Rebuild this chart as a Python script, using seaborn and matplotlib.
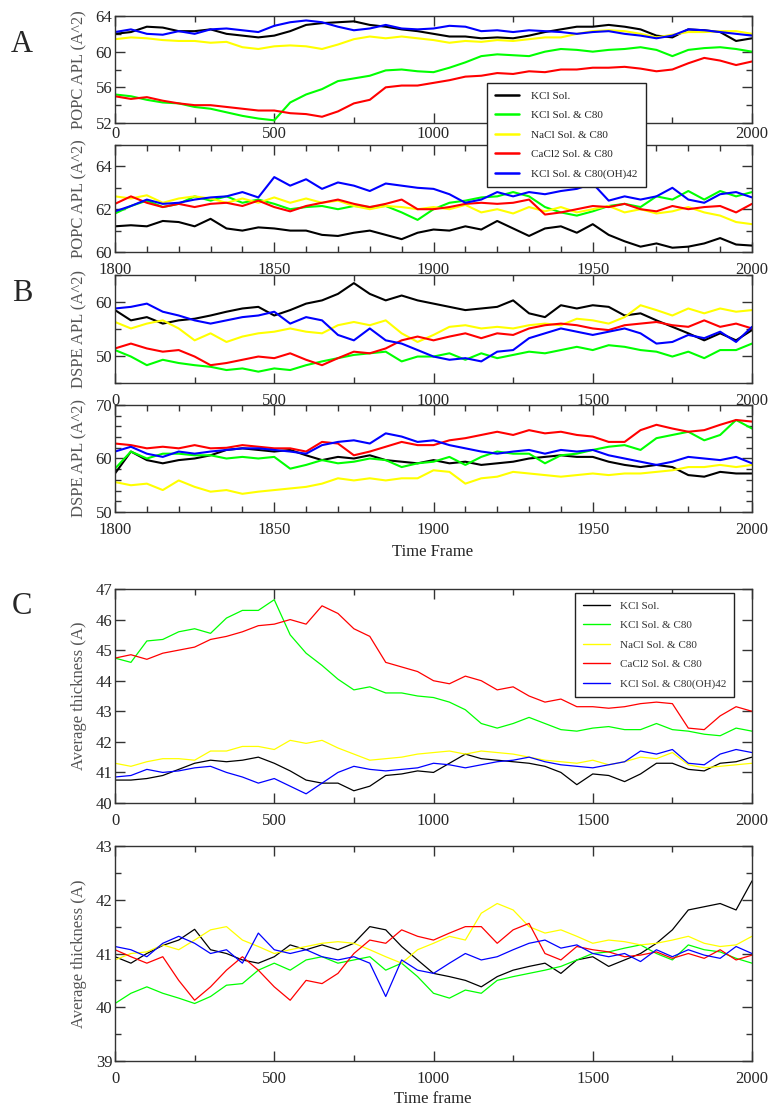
import matplotlib
matplotlib.use("Agg")
import matplotlib.pyplot as plt
from matplotlib.ticker import MultipleLocator
from matplotlib.lines import Line2D
import pandas as pd
import seaborn as sns

frames_full = list(range(0, 2001, 50))
frames_tail = list(range(1800, 2001, 5))

series_names = ["KCl Sol.", "KCl Sol. & C80", "NaCl Sol. & C80",
                "CaCl2 Sol. & C80", "KCl Sol. & C80(OH)42"]
series_colors = ["#000000", "#00ff00", "#ffff00", "#ff0000", "#0000ff"]

# ---- A: POPC area per lipid, full run
popc_full_kcl = [62.0, 62.2, 62.8, 62.7, 62.3, 62.3, 62.5, 62.0, 61.8, 61.6, 61.8, 62.3, 63.0, 63.2,
                 63.3, 63.4, 63.0, 62.8, 62.5, 62.3, 62.0, 61.7, 61.7, 61.5, 61.6, 61.5, 61.8, 62.2,
                 62.5, 62.8, 62.8, 63.0, 62.8, 62.5, 61.8, 61.6, 62.5, 62.4, 62.2, 61.2, 61.5]
popc_full_c80 = [55.2, 55.0, 54.6, 54.3, 54.2, 53.8, 53.6, 53.2, 52.8, 52.5, 52.3, 54.3, 55.2, 55.8,
                 56.7, 57.0, 57.3, 57.9, 58.0, 57.8, 57.7, 58.2, 58.8, 59.5, 59.7, 59.6, 59.5, 60.0,
                 60.3, 60.2, 60.0, 60.2, 60.3, 60.5, 60.2, 59.5, 60.2, 60.4, 60.5, 60.3, 60.0]
popc_full_nacl = [61.4, 61.6, 61.5, 61.3, 61.2, 61.2, 61.0, 61.1, 60.5, 60.3, 60.6, 60.7, 60.6, 60.3,
                  60.8, 61.4, 61.7, 61.5, 61.7, 61.5, 61.3, 61.0, 61.2, 61.1, 61.3, 61.2, 61.4, 61.6,
                  61.6, 62.0, 62.3, 62.4, 62.3, 62.0, 61.6, 61.9, 62.2, 62.2, 62.3, 62.3, 62.0]
popc_full_cacl2 = [55.0, 54.7, 54.9, 54.5, 54.2, 54.0, 54.0, 53.8, 53.6, 53.4, 53.4, 53.1, 53.0, 52.7,
                   53.3, 54.2, 54.6, 56.0, 56.2, 56.2, 56.5, 56.8, 57.2, 57.3, 57.6, 57.5, 57.8, 57.7,
                   58.0, 58.0, 58.2, 58.2, 58.3, 58.1, 57.8, 58.0, 58.7, 59.3, 59.0, 58.5, 58.9]
popc_full_oh = [62.2, 62.5, 62.0, 61.9, 62.3, 62.0, 62.5, 62.6, 62.4, 62.2, 62.9, 63.3, 63.5, 63.3,
                62.8, 62.4, 62.6, 63.0, 62.6, 62.5, 62.6, 62.9, 62.8, 62.3, 62.4, 62.2, 62.4, 62.3,
                62.2, 62.0, 62.2, 62.3, 62.0, 61.8, 61.5, 61.8, 62.5, 62.4, 62.2, 62.0, 61.8]

# ---- A: POPC area per lipid, last 200 frames
popc_tail_kcl = [61.2, 61.25, 61.2, 61.45, 61.4, 61.2, 61.55, 61.1, 61.0, 61.15, 61.1, 61.0, 61.0, 60.8,
                 60.75, 60.9, 61.0, 60.8, 60.6, 60.9, 61.05, 61.0, 61.2, 61.05, 61.45, 61.1, 60.75, 61.1,
                 61.2, 60.9, 61.3, 60.8, 60.5, 60.25, 60.4, 60.2, 60.25, 60.4, 60.65, 60.35, 60.3]
popc_tail_c80 = [61.8, 62.15, 62.4, 62.1, 62.25, 62.6, 62.4, 62.6, 62.3, 62.45, 62.25, 62.0, 62.1, 62.15,
                 62.0, 62.15, 62.1, 62.15, 61.85, 61.5, 62.0, 62.3, 62.4, 62.55, 62.6, 62.8, 62.6, 62.1,
                 61.85, 61.7, 61.9, 62.15, 62.25, 62.1, 62.6, 62.45, 62.85, 62.45, 62.85, 62.6, 62.8]
popc_tail_nacl = [62.6, 62.5, 62.65, 62.3, 62.5, 62.6, 62.5, 62.3, 62.5, 62.3, 62.55, 62.3, 62.5, 62.3,
                  62.4, 62.15, 62.0, 62.15, 62.1, 62.0, 62.1, 62.0, 62.2, 61.85, 62.0, 61.8, 62.1, 61.9,
                  62.1, 61.85, 62.0, 62.15, 61.85, 62.0, 61.8, 61.9, 62.1, 61.85, 61.7, 61.4, 61.3]
popc_tail_cacl2 = [62.25, 62.6, 62.3, 62.1, 62.25, 62.1, 62.25, 62.3, 62.15, 62.4, 62.1, 61.9, 62.15, 62.3,
                   62.45, 62.25, 62.1, 62.25, 62.45, 62.0, 62.0, 62.1, 62.25, 62.3, 62.25, 62.3, 62.45, 61.75,
                   61.85, 62.0, 62.15, 62.1, 62.25, 62.0, 61.9, 62.15, 62.0, 62.1, 62.15, 61.85, 62.25]
popc_tail_oh = [61.9, 62.15, 62.45, 62.25, 62.3, 62.45, 62.55, 62.6, 62.8, 62.55, 63.5, 63.1, 63.4, 62.95,
                63.25, 63.1, 62.85, 63.2, 63.1, 63.0, 62.95, 62.7, 62.3, 62.45, 62.8, 62.6, 62.8, 62.7,
                62.85, 62.95, 63.2, 62.4, 62.6, 62.45, 62.6, 63.0, 62.45, 62.3, 62.7, 62.8, 62.55]

# ---- B: DSPE area per lipid, full run
dspe_full_kcl = [58.5, 56.6, 57.2, 56.0, 56.6, 56.9, 57.5, 58.2, 58.8, 59.1, 57.5, 58.5, 59.7, 60.3,
                 61.5, 63.5, 61.5, 60.3, 61.2, 60.3, 59.7, 59.1, 58.5, 58.8, 59.1, 60.3, 57.9, 57.2,
                 59.4, 58.8, 59.4, 59.1, 57.5, 57.9, 56.6, 55.4, 54.2, 52.9, 54.2, 52.9, 54.8]
dspe_full_c80 = [51.1, 49.9, 48.3, 49.3, 48.7, 48.3, 48.0, 47.4, 47.7, 47.1, 47.7, 47.4, 48.3, 49.0,
                 49.6, 50.2, 50.5, 50.8, 49.0, 49.9, 49.9, 50.5, 49.3, 50.5, 49.6, 50.2, 50.8, 50.5,
                 51.1, 51.7, 51.1, 52.0, 51.7, 51.1, 50.8, 49.9, 50.8, 49.6, 51.1, 51.1, 52.3]
dspe_full_nacl = [56.3, 55.1, 56.0, 56.6, 55.1, 52.9, 54.2, 52.6, 53.6, 54.2, 54.5, 55.1, 54.5, 54.2,
                  55.7, 56.3, 55.7, 56.6, 54.2, 52.6, 53.9, 55.4, 55.7, 55.1, 55.4, 55.1, 55.7, 56.0,
                  55.7, 56.9, 56.6, 56.0, 57.2, 59.4, 58.5, 57.5, 58.8, 57.9, 58.8, 58.2, 58.5]
dspe_full_cacl2 = [51.4, 52.3, 51.4, 50.8, 51.1, 49.9, 48.3, 48.7, 49.3, 49.9, 49.6, 50.5, 49.3, 48.3,
                   49.6, 50.8, 50.5, 51.4, 52.9, 53.6, 52.9, 53.6, 54.2, 53.3, 54.2, 53.9, 55.1, 55.7,
                   56.0, 55.7, 55.1, 54.8, 55.7, 56.0, 56.3, 55.7, 55.4, 56.6, 55.4, 56.0, 55.1]
dspe_full_oh = [58.8, 59.1, 59.7, 58.2, 57.5, 56.6, 56.0, 56.6, 57.2, 57.5, 58.2, 56.0, 57.2, 56.6,
                53.9, 52.9, 55.1, 52.9, 52.3, 51.1, 49.9, 49.3, 49.6, 49.0, 50.8, 51.1, 53.3, 54.2,
                55.1, 54.5, 53.9, 54.5, 55.1, 54.2, 52.3, 52.6, 53.9, 53.3, 54.5, 52.6, 55.4]

# ---- B: DSPE area per lipid, last 200 frames
dspe_tail_kcl = [57.2, 61.3, 59.7, 59.1, 59.7, 60.0, 60.6, 61.6, 61.9, 61.6, 61.3, 61.6, 60.6, 59.7,
                 60.3, 60.0, 60.6, 59.7, 59.4, 59.1, 59.7, 59.1, 59.4, 58.8, 59.1, 59.4, 60.0, 60.3,
                 60.6, 60.3, 60.3, 59.4, 58.8, 58.4, 58.8, 58.4, 56.9, 56.6, 57.5, 57.2, 57.2]
dspe_tail_c80 = [58.1, 61.3, 60.0, 60.9, 60.9, 60.6, 60.6, 60.0, 60.3, 60.0, 60.3, 58.1, 58.8, 59.7,
                 59.1, 59.4, 60.0, 59.7, 58.4, 59.1, 59.4, 60.3, 58.8, 60.3, 61.3, 60.9, 60.9, 59.1,
                 60.6, 60.9, 61.6, 62.2, 62.5, 61.6, 63.8, 64.4, 65.0, 63.4, 64.4, 67.2, 65.6]
dspe_tail_nacl = [55.6, 55.0, 55.3, 54.1, 55.9, 54.7, 53.8, 54.1, 53.4, 53.8, 54.1, 54.4, 54.7, 55.3,
                  56.3, 55.9, 56.3, 55.9, 56.3, 56.3, 57.8, 57.5, 55.3, 56.3, 56.6, 57.5, 57.2, 56.9,
                  56.6, 56.9, 57.2, 56.9, 57.2, 57.2, 57.5, 57.8, 58.4, 58.4, 58.8, 58.4, 58.8]
dspe_tail_cacl2 = [62.8, 62.5, 61.9, 62.2, 61.9, 62.5, 61.9, 62.0, 62.5, 62.2, 61.9, 61.9, 61.3, 63.1,
                   62.8, 60.6, 61.3, 62.2, 63.1, 62.5, 62.5, 63.4, 63.8, 64.4, 65.0, 64.4, 65.3, 64.7,
                   65.0, 64.4, 64.1, 63.1, 63.1, 65.3, 66.3, 65.6, 65.0, 65.3, 66.3, 67.2, 66.9]
dspe_tail_oh = [61.3, 62.2, 60.9, 60.3, 61.3, 60.9, 61.3, 61.6, 61.9, 61.9, 61.6, 61.3, 60.9, 62.5,
                63.1, 63.4, 62.8, 64.7, 64.1, 63.1, 63.4, 62.5, 61.9, 61.3, 60.9, 61.3, 61.6, 60.9,
                61.6, 61.3, 61.6, 60.6, 60.0, 59.4, 58.8, 59.4, 60.3, 60.0, 59.7, 60.3, 59.1]

# ---- C: average thickness, upper leaflet system
thick_top_kcl = [40.75, 40.75, 40.8, 40.9, 41.1, 41.3, 41.4, 41.35, 41.4, 41.5, 41.3, 41.05, 40.75, 40.65,
                 40.65, 40.4, 40.55, 40.9, 40.95, 41.05, 41.0, 41.3, 41.6, 41.45, 41.4, 41.35, 41.3, 41.2,
                 41.0, 40.6, 40.95, 40.9, 40.7, 40.95, 41.3, 41.3, 41.1, 41.05, 41.3, 41.35, 41.5]
thick_top_c80 = [44.74, 44.6, 45.3, 45.35, 45.6, 45.7, 45.55, 46.05, 46.3, 46.3, 46.65, 45.5, 44.9, 44.5,
                 44.05, 43.7, 43.8, 43.6, 43.6, 43.5, 43.45, 43.3, 43.05, 42.6, 42.45, 42.6, 42.8, 42.6,
                 42.4, 42.35, 42.45, 42.5, 42.4, 42.4, 42.6, 42.4, 42.35, 42.25, 42.2, 42.45, 42.35]
thick_top_nacl = [41.3, 41.2, 41.35, 41.45, 41.45, 41.4, 41.7, 41.7, 41.85, 41.85, 41.75, 42.05, 41.95, 42.05,
                  41.8, 41.6, 41.4, 41.45, 41.5, 41.6, 41.65, 41.7, 41.6, 41.7, 41.65, 41.6, 41.5, 41.4,
                  41.35, 41.3, 41.4, 41.25, 41.35, 41.5, 41.45, 41.65, 41.25, 41.15, 41.2, 41.25, 41.3]
thick_top_cacl2 = [44.74, 44.85, 44.7, 44.9, 45.0, 45.1, 45.35, 45.45, 45.6, 45.8, 45.85, 46.0, 45.85, 46.45,
                   46.2, 45.7, 45.45, 44.6, 44.45, 44.3, 44.0, 43.9, 44.15, 44.0, 43.7, 43.8, 43.5, 43.3,
                   43.4, 43.15, 43.15, 43.1, 43.15, 43.25, 43.3, 43.25, 42.45, 42.4, 42.85, 43.15, 43.0]
thick_top_oh = [40.85, 40.9, 41.1, 41.0, 41.05, 41.15, 41.2, 41.0, 40.85, 40.65, 40.8, 40.55, 40.3, 40.65,
                41.0, 41.2, 41.1, 41.05, 41.1, 41.15, 41.3, 41.25, 41.15, 41.25, 41.35, 41.4, 41.5, 41.35,
                41.25, 41.2, 41.15, 41.25, 41.35, 41.7, 41.6, 41.75, 41.3, 41.25, 41.6, 41.75, 41.65]

# ---- C: average thickness, second system
thick_bot_kcl = [40.94, 40.82, 41.0, 41.15, 41.25, 41.45, 41.07, 41.0, 40.88, 40.82, 40.94, 41.16, 41.07, 41.16,
                 41.07, 41.19, 41.5, 41.44, 41.13, 40.88, 40.63, 40.57, 40.5, 40.38, 40.57, 40.69, 40.76, 40.82,
                 40.63, 40.88, 40.94, 40.76, 40.88, 41.0, 41.19, 41.44, 41.81, 41.87, 41.93, 41.81, 42.35]
thick_bot_c80 = [40.07, 40.26, 40.38, 40.26, 40.17, 40.07, 40.2, 40.41, 40.44, 40.69, 40.82, 40.69, 40.88, 40.94,
                 40.82, 40.88, 40.94, 40.69, 40.82, 40.57, 40.26, 40.17, 40.32, 40.26, 40.5, 40.57, 40.63, 40.69,
                 40.76, 40.88, 41.0, 41.03, 41.1, 41.16, 41.0, 40.88, 41.16, 41.07, 41.03, 40.91, 40.82]
thick_bot_nacl = [40.88, 41.0, 41.03, 41.16, 41.07, 41.25, 41.44, 41.5, 41.25, 41.13, 41.0, 41.07, 41.13, 41.19,
                  41.22, 41.19, 41.07, 40.94, 40.82, 41.07, 41.19, 41.32, 41.25, 41.75, 41.93, 41.81, 41.5, 41.38,
                  41.44, 41.32, 41.19, 41.25, 41.22, 41.16, 41.19, 41.25, 41.32, 41.19, 41.13, 41.16, 41.32]
thick_bot_cacl2 = [41.07, 40.94, 40.82, 40.94, 40.5, 40.13, 40.38, 40.69, 40.94, 40.69, 40.38, 40.13, 40.5, 40.44,
                   40.63, 41.0, 41.25, 41.19, 41.44, 41.32, 41.25, 41.38, 41.5, 41.5, 41.19, 41.44, 41.56, 41.0,
                   40.88, 41.13, 41.07, 41.03, 40.94, 40.97, 41.03, 40.91, 41.0, 40.91, 41.07, 40.88, 40.97]
thick_bot_oh = [41.13, 41.07, 40.94, 41.19, 41.32, 41.19, 41.0, 41.07, 40.82, 41.38, 41.07, 41.0, 41.07, 40.94,
                40.88, 40.94, 40.82, 40.2, 40.88, 40.69, 40.63, 40.82, 41.0, 40.88, 40.94, 41.07, 41.19, 41.25,
                41.1, 41.16, 41.0, 40.94, 41.0, 40.85, 41.07, 40.94, 41.07, 40.97, 40.91, 41.13, 41.0]


def long_frame(frames, *values):
    rows = []
    for name, vals in zip(series_names, values):
        for f, v in zip(frames, vals):
            rows.append({"frame": f, "value": v, "series": name})
    return pd.DataFrame(rows)


def draw_panel(ax, df, lw):
    sns.lineplot(data=df, x="frame", y="value", hue="series", hue_order=series_names,
                 palette=series_colors, linewidth=lw, legend=False, ax=ax,
                 estimator=None, sort=True)
    ax.set_xlabel("")
    ax.set_ylabel("")


def style_axis(ax, xlim, xmaj, xmin, ylim, ymaj, ymin, xpad=7):
    ax.set_xlim(*xlim)
    ax.set_ylim(*ylim)
    ax.xaxis.set_major_locator(MultipleLocator(xmaj))
    ax.xaxis.set_minor_locator(MultipleLocator(xmin))
    ax.yaxis.set_major_locator(MultipleLocator(ymaj))
    if ymin:
        ax.yaxis.set_minor_locator(MultipleLocator(ymin))
    ax.tick_params(which="both", direction="in", top=True, right=True, color="#333333",
                   labelsize=12)
    ax.tick_params(axis="x", pad=xpad)
    ax.tick_params(axis="y", pad=2)
    ax.tick_params(which="major", length=7, width=1)
    ax.tick_params(which="minor", length=4, width=1)
    for sp in ax.spines.values():
        sp.set_color("#333333")
        sp.set_linewidth(1.0)


sns.set_style("ticks")
plt.rcParams["font.family"] = ["Liberation Serif", "DejaVu Serif"]

W, H = 771, 1107
fig = plt.figure(figsize=(W / 100, H / 100), dpi=100)


def add_axes(top, bottom, left=115, right=752):
    return fig.add_axes([left / W, 1 - bottom / H, (right - left) / W, (bottom - top) / H])


ax_a1 = add_axes(16, 123)
ax_a2 = add_axes(145, 252)
ax_b1 = add_axes(275, 383)
ax_b2 = add_axes(405, 512)
ax_c1 = add_axes(589, 803)
ax_c2 = add_axes(846, 1061)

draw_panel(ax_a1, long_frame(frames_full, popc_full_kcl, popc_full_c80, popc_full_nacl,
                             popc_full_cacl2, popc_full_oh), 1.5)
draw_panel(ax_a2, long_frame(frames_tail, popc_tail_kcl, popc_tail_c80, popc_tail_nacl,
                             popc_tail_cacl2, popc_tail_oh), 1.5)
draw_panel(ax_b1, long_frame(frames_full, dspe_full_kcl, dspe_full_c80, dspe_full_nacl,
                             dspe_full_cacl2, dspe_full_oh), 1.5)
draw_panel(ax_b2, long_frame(frames_tail, dspe_tail_kcl, dspe_tail_c80, dspe_tail_nacl,
                             dspe_tail_cacl2, dspe_tail_oh), 1.5)
draw_panel(ax_c1, long_frame(frames_full, thick_top_kcl, thick_top_c80, thick_top_nacl,
                             thick_top_cacl2, thick_top_oh), 0.9)
draw_panel(ax_c2, long_frame(frames_full, thick_bot_kcl, thick_bot_c80, thick_bot_nacl,
                             thick_bot_cacl2, thick_bot_oh), 0.9)

style_axis(ax_a1, (0, 2000), 500, 250, (52, 64), 4, 2, xpad=2)
style_axis(ax_a2, (1800, 2000), 50, 10, (60, 65), 2, 1)
style_axis(ax_b1, (0, 2000), 500, 250, (45, 65), 10, 5)
style_axis(ax_b2, (1800, 2000), 50, 10, (50, 70), 10, 2)
style_axis(ax_c1, (0, 2000), 500, 250, (40, 47), 1, None)
style_axis(ax_c2, (0, 2000), 500, 250, (39, 43), 1, 0.5)

ylab_kw = dict(fontsize=12, color="#555555")
for ax in (ax_a1, ax_a2):
    ax.set_ylabel("POPC APL (A^2)", labelpad=6, **ylab_kw)
for ax in (ax_b1, ax_b2):
    ax.set_ylabel("DSPE APL (A^2)", labelpad=6, **ylab_kw)
for ax in (ax_c1, ax_c2):
    ax.set_ylabel("Average thickness (A)", labelpad=6, **ylab_kw)

fig.text(433 / W, 1 - 552 / H, "Time Frame", ha="center", va="center", fontsize=12)
fig.text(433 / W, 1 - 1099 / H, "Time frame", ha="center", va="center", fontsize=12)

for letter, y in (("A", 45), ("B", 293), ("C", 607)):
    fig.text(22 / W, 1 - y / H, letter, ha="center", va="center", fontsize=22)

handles_thick = [Line2D([], [], color=c, lw=1.8) for c in series_colors]
handles_thin = [Line2D([], [], color=c, lw=1.0) for c in series_colors]

leg_a = fig.legend(handles_thick, series_names, loc="upper left",
                   bbox_to_anchor=(487 / W, 1 - 83 / H), fontsize=8, frameon=True,
                   fancybox=False, framealpha=1, edgecolor="#222222", borderaxespad=0,
                   borderpad=0.7, labelspacing=0.88, handlelength=2.2, handletextpad=1.1)
leg_a.get_frame().set_linewidth(1.0)

leg_c = fig.legend(handles_thin, series_names, loc="upper right",
                   bbox_to_anchor=(734 / W, 1 - 593 / H), fontsize=8, frameon=True,
                   fancybox=False, framealpha=1, edgecolor="#222222", borderaxespad=0,
                   borderpad=0.7, labelspacing=0.88, handlelength=2.4, handletextpad=0.9)
leg_c.get_frame().set_linewidth(1.0)
for t in leg_c.get_texts():
    t.set_color("#333333")

fig.savefig("out.png", dpi=100)
